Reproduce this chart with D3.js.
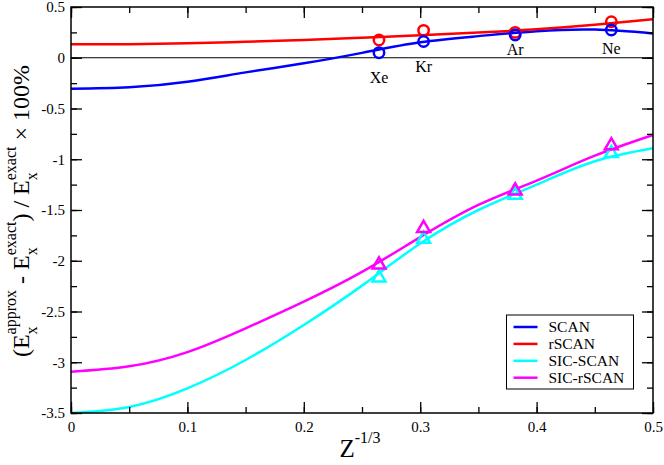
<!DOCTYPE html>
<html>
<head>
<meta charset="utf-8">
<script src="https://cdn.jsdelivr.net/npm/d3@7"></script>
<style>
  body { margin: 0; background: #fff; }
  text { font-family: "Liberation Serif", "DejaVu Serif", serif; fill: #000; }
</style>
</head>
<body>
<div id="chart"></div>
<script>
// curve data
var gridX = [0, 0.05, 0.1, 0.15, 0.2, 0.25, 0.3, 0.35, 0.4, 0.45, 0.5];
var scanCurve    = [-0.305, -0.291, -0.236, -0.144, -0.055, 0.048, 0.152, 0.213, 0.262, 0.278, 0.24];
var rscanCurve   = [0.132, 0.134, 0.142, 0.158, 0.175, 0.198, 0.222, 0.248, 0.28, 0.325, 0.379];
var sicScanCurve = [-3.5, -3.44, -3.257, -2.978, -2.633, -2.245, -1.83, -1.5, -1.25, -1.02, -0.892];
var sicRscanCurve= [-3.093, -3.04, -2.9, -2.666, -2.403, -2.11, -1.767, -1.45, -1.21, -0.965, -0.761];

// atoms (x = Z^-1/3)
var atoms = ["Xe", "Kr", "Ar", "Ne"];
var atomX = [0.2646, 0.3029, 0.3816, 0.4642];
var scanPts     = [0.05, 0.16, 0.224, 0.273];
var rscanPts    = [0.175, 0.27, 0.25, 0.355];
var sicScanPts  = [-2.167, -1.786, -1.352, -0.942];
var sicRscanPts = [-2.04, -1.68, -1.31, -0.866];
var atomLabelY  = [-0.249, -0.145, 0.03, 0.035];

var seriesNames = ["SCAN", "rSCAN", "SIC-SCAN", "SIC-rSCAN"];
var seriesColors = ["#0000ff", "#ff0000", "#00ffff", "#ff00ff"];

var xTicks = [0, 0.1, 0.2, 0.3, 0.4, 0.5];
var yTicks = [0.5, 0, -0.5, -1, -1.5, -2, -2.5, -3, -3.5];

var svgWidth = 664;
var svgHeight = 465;
var margin = {top: 7, right: 11, bottom: 52, left: 71};
var width = svgWidth - margin.left - margin.right;
var height = svgHeight - margin.top - margin.bottom;

var svg = d3.select("#chart")
  .append("svg")
  .attr("width", svgWidth)
  .attr("height", svgHeight);

var chartGroup = svg.append("g")
  .attr("transform", `translate(${margin.left}, ${margin.top})`);

var x = d3.scaleLinear().domain([0, 0.5]).range([0, width]);
var y = d3.scaleLinear().domain([-3.5, 0.5]).range([height, 0]);

// zero line
chartGroup.append("line")
  .attr("x1", 0).attr("x2", width)
  .attr("y1", y(0)).attr("y2", y(0))
  .attr("stroke", "#000").attr("stroke-width", 1);

// curves
var curves = [scanCurve, rscanCurve, sicScanCurve, sicRscanCurve];
var line = d3.line()
  .x((d, i) => x(gridX[i]))
  .y(d => y(d))
  .curve(d3.curveNatural);

curves.forEach(function(c, k) {
  chartGroup.append("path")
    .datum(c)
    .attr("fill", "none")
    .attr("stroke", seriesColors[k])
    .attr("stroke-width", 2.5)
    .attr("d", line);
});

// circles (rSCAN first, SCAN on top)
[[rscanPts, 1], [scanPts, 0]].forEach(function(p) {
  chartGroup.selectAll(null)
    .data(p[0])
    .join("circle")
    .attr("cx", (d, i) => x(atomX[i]))
    .attr("cy", d => y(d))
    .attr("r", 5.2)
    .attr("fill", "none")
    .attr("stroke", seriesColors[p[1]])
    .attr("stroke-width", 2.5);
});

// triangles
var tri = d3.symbol().type(d3.symbolTriangle).size(72);
[sicScanPts, sicRscanPts].forEach(function(p, k) {
  chartGroup.selectAll(null)
    .data(p)
    .join("path")
    .attr("d", tri)
    .attr("transform", (d, i) => `translate(${x(atomX[i])}, ${y(d)})`)
    .attr("fill", "none")
    .attr("stroke", seriesColors[k + 2])
    .attr("stroke-width", 2.5);
});

// atom labels
chartGroup.selectAll(null)
  .data(atoms)
  .join("text")
  .attr("x", (d, i) => x(atomX[i]))
  .attr("y", (d, i) => y(atomLabelY[i]))
  .attr("text-anchor", "middle")
  .style("font-size", "16px")
  .text(d => d);

// axes, ticks inside on all four sides
var xMinor = d3.range(0, 0.5001, 0.05);
var yMinor = d3.range(-3.5, 0.5001, 0.25);

chartGroup.append("g")
  .attr("transform", `translate(0, ${height})`)
  .call(d3.axisBottom(x).tickValues(xMinor).tickSize(-6).tickFormat(""));
chartGroup.append("g")
  .attr("transform", `translate(0, ${height})`)
  .call(d3.axisBottom(x).tickValues(xTicks).tickSize(-11).tickPadding(8).tickFormat(d => String(d)))
  .attr("font-family", "Liberation Serif, serif")
  .call(g => g.selectAll("text").style("font-size", "15px"));
chartGroup.append("g")
  .call(d3.axisTop(x).tickValues(xMinor).tickSize(-6).tickFormat(""));
chartGroup.append("g")
  .call(d3.axisTop(x).tickValues(xTicks).tickSize(-11).tickFormat(""));

chartGroup.append("g")
  .call(d3.axisLeft(y).tickValues(yMinor).tickSize(-6).tickFormat(""));
chartGroup.append("g")
  .call(d3.axisLeft(y).tickValues(yTicks).tickSize(-11).tickPadding(6).tickFormat(d => String(d)))
  .attr("font-family", "Liberation Serif, serif")
  .call(g => g.selectAll("text").style("font-size", "15px"));
chartGroup.append("g")
  .attr("transform", `translate(${width}, 0)`)
  .call(d3.axisRight(y).tickValues(yMinor).tickSize(-6).tickFormat(""));
chartGroup.append("g")
  .attr("transform", `translate(${width}, 0)`)
  .call(d3.axisRight(y).tickValues(yTicks).tickSize(-11).tickFormat(""));

chartGroup.selectAll(".domain").remove();
chartGroup.selectAll(".tick line").attr("stroke", "#000").attr("stroke-width", 1.3);
chartGroup.selectAll(".tick text").attr("fill", "#000").style("font-family", "'Liberation Serif', serif");

chartGroup.append("rect")
  .attr("width", width).attr("height", height)
  .attr("fill", "none").attr("stroke", "#000").attr("stroke-width", 1.5);

// legend
var legend = chartGroup.append("g")
  .attr("transform", `translate(${506.5 - margin.left}, ${315 - margin.top})`);
legend.append("rect")
  .attr("width", 127).attr("height", 74)
  .attr("fill", "#fff").attr("stroke", "#000").attr("stroke-width", 1);
seriesNames.forEach(function(name, i) {
  var ly = 12 + i * 16.9;
  legend.append("line")
    .attr("x1", 7).attr("x2", 31)
    .attr("y1", ly).attr("y2", ly)
    .attr("stroke", seriesColors[i]).attr("stroke-width", 2.5);
  legend.append("text")
    .attr("x", 42).attr("y", ly + 5)
    .style("font-size", "15.5px")
    .text(name);
});

// label builder: pieces laid out left to right, sub/sup stacked
function richLabel(g, pieces, big, small) {
  var pos = 0;
  pieces.forEach(function(p) {
    if (typeof p === "string") {
      var t = g.append("text").attr("x", pos).attr("y", 0)
        .style("font-size", big + "px").attr("xml:space", "preserve").text(p);
      pos += t.node().getComputedTextLength();
    } else {
      var w = 0;
      if (p.sub) {
        var s = g.append("text").attr("x", pos).attr("y", big * 0.33)
          .style("font-size", small + "px").text(p.sub);
        w = Math.max(w, s.node().getComputedTextLength());
      }
      if (p.sup) {
        var u = g.append("text").attr("x", pos).attr("y", -big * 0.55)
          .style("font-size", small + "px").text(p.sup);
        w = Math.max(w, u.node().getComputedTextLength());
      }
      pos += w;
    }
  });
  return pos;
}

// y axis title
var yTitle = svg.append("g");
var yInner = yTitle.append("g");
var yLen = richLabel(yInner, [
  "(E", {sub: "x", sup: "approx"}, " - E", {sub: "x", sup: "exact"},
  ") / E", {sub: "x", sup: "exact"}, " × 100%"
], 24, 16);
yInner.attr("transform", `translate(${-yLen / 2}, 0)`);
yTitle.attr("transform", "translate(29, 211) rotate(-90)");

// x axis title
var xTitle = svg.append("g");
var xInner = xTitle.append("g");
var xLen = richLabel(xInner, ["Z", {sup: "-1/3"}], 25, 16);
xInner.attr("transform", `translate(${-xLen / 2}, 0)`);
xTitle.attr("transform", "translate(360, 457)");
</script>
</body>
</html>
